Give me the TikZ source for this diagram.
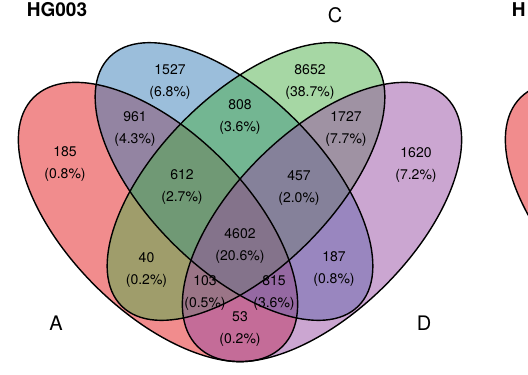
\documentclass[tikz,border=0pt]{standalone}
\usepackage{fontspec}
\setmainfont{TeX Gyre Heros}
\definecolor{setA}{HTML}{E41A1C}
\definecolor{setB}{HTML}{377EB8}
\definecolor{setC}{HTML}{4DAF4A}
\definecolor{setD}{HTML}{984EA3}
\begin{document}
\begin{tikzpicture}[x=1pt,y=-1pt,
  outline/.style={draw=black, line width=1.4pt},
  venfill/.style={fill=#1, fill opacity=0.5},
  cnt/.style={font=\fontsize{14}{22}\selectfont, align=center, inner sep=0pt, text=black},
  setlabel/.style={font=\fontsize{20}{22}\selectfont, inner sep=0pt},
  paneltitle/.style={font=\bfseries\fontsize{19}{22}\selectfont, inner sep=0pt, anchor=base west}]
\useasboundingbox (0,0) rectangle (528,375);
\begin{scope}
\clip (0,0) rectangle (528,375);
% fills
\fill[venfill=setA, rotate around={-45:(158,222)}] (158,222) ellipse (176pt and 89.5pt);
\fill[venfill=setB, rotate around={-45:(234,181.5)}] (234,181.5) ellipse (176pt and 87pt);
\fill[venfill=setC, rotate around={45:(246,181.5)}] (246,181.5) ellipse (176pt and 87pt);
\fill[venfill=setD, rotate around={45:(322,222)}] (322,222) ellipse (176pt and 89.5pt);
% next panel (cut off)
\fill[venfill=setA, rotate around={-45:(645,222)}] (645,222) ellipse (176pt and 89.5pt);
% outlines
\draw[outline, rotate around={-45:(158,222)}] (158,222) ellipse (176pt and 89.5pt);
\draw[outline, rotate around={-45:(234,181.5)}] (234,181.5) ellipse (176pt and 87pt);
\draw[outline, rotate around={45:(246,181.5)}] (246,181.5) ellipse (176pt and 87pt);
\draw[outline, rotate around={45:(322,222)}] (322,222) ellipse (176pt and 89.5pt);
\draw[outline, rotate around={-45:(645,222)}] (645,222) ellipse (176pt and 89.5pt);
\end{scope}
% titles
\node[paneltitle] (title) at (26.7,16.7) {HG003};
\node[paneltitle] (title2) at (511.7,16.7) {H};
% set labels
\node[setlabel] (labA) at (56,323.5) {A};
\node[setlabel] (labC) at (335,15) {C};
\node[setlabel] (labD) at (424,323.5) {D};
% counts
\node[cnt] (r185)  at (65,164.5)  {185\\(0.8\%)};
\node[cnt] (r1527) at (170,82.5)  {1527\\(6.8\%)};
\node[cnt] (r8652) at (310,82.5)  {8652\\(38.7\%)};
\node[cnt] (r1620) at (416,165)   {1620\\(7.2\%)};
\node[cnt] (r961)  at (135,129.5) {961\\(4.3\%)};
\node[cnt] (r808)  at (240,117.5) {808\\(3.6\%)};
\node[cnt] (r1727) at (346,129.5) {1727\\(7.7\%)};
\node[cnt] (r612)  at (182,187)   {612\\(2.7\%)};
\node[cnt] (r457)  at (299,188)   {457\\(2.0\%)};
\node[cnt] (r4602) at (240,246.5) {4602\\(20.6\%)};
\node[cnt] (r40)   at (146.5,270.5) {40\\(0.2\%)};
\node[cnt] (r187)  at (334,269.5) {187\\(0.8\%)};
\node[cnt] (r103)  at (205,293.5) {103\\(0.5\%)};
\node[cnt] (r815)  at (274,293.5) {815\\(3.6\%)};
\node[cnt] (r53)   at (240,329)   {53\\(0.2\%)};
\end{tikzpicture}
\end{document}
